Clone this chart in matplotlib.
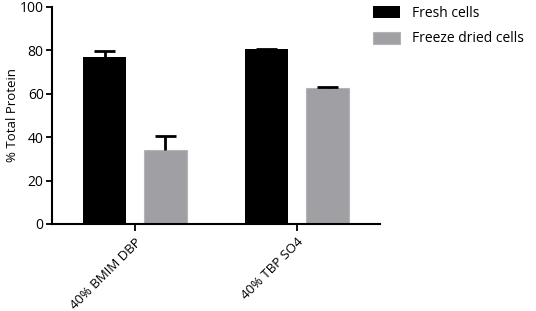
import matplotlib.pyplot as plt
import numpy as np

# Data
groups = ['40% BMIM DBP', '40% TBP SO4']
fresh = [77.0, 80.5]
fresh_err = [2.7, 0.0]
freeze = [34.0, 62.5]
freeze_err = [6.5, 0.6]
series_names = ['Fresh cells', 'Freeze dried cells']

plt.rcParams['font.family'] = ['Open Sans', 'DejaVu Sans']

fig = plt.figure(figsize=(5.36, 3.11), dpi=100)
ax = fig.add_axes([0.097, 0.28, 0.612, 0.6975])

x = np.arange(len(groups))
w = 0.265
off = 0.188
cap = 0.065

ax.bar(x - off, fresh, w, color='black', label=series_names[0], zorder=2)
ax.bar(x + off, freeze, w, color='#a0a0a4', edgecolor='#b4b4b8', linewidth=0.8,
       label=series_names[1], zorder=2)

# upward-only error bars
for xs, vals, errs in [(x - off, fresh, fresh_err), (x + off, freeze, freeze_err)]:
    vals = np.array(vals)
    errs = np.array(errs)
    ax.vlines(xs, vals, vals + errs, color='black', linewidth=2, zorder=3)
    ax.hlines(vals + errs, xs - cap, xs + cap, color='black', linewidth=2, zorder=3)

ax.set_xlim(-0.512, 1.512)
ax.set_ylim(0, 100)
ax.set_yticks([0, 20, 40, 60, 80, 100])
ax.set_xticks(x)
ax.set_xticklabels(groups, rotation=45, ha='right', rotation_mode='anchor', fontsize=9.5)
ax.tick_params(axis='y', labelsize=10, width=1.3, length=4, pad=2)
ax.tick_params(axis='x', width=1.3, length=5)
ax.set_ylabel('% Total Protein', fontsize=9.5)
ax.yaxis.set_label_coords(-0.1, 0.5)

for s in ['top', 'right']:
    ax.spines[s].set_visible(False)
for s in ['left', 'bottom']:
    ax.spines[s].set_linewidth(1.5)

ax.legend(loc='upper left', bbox_to_anchor=(0.962, 1.03), frameon=False, fontsize=10,
          handlelength=1.9, handleheight=0.95, handletextpad=0.9, labelspacing=0.75,
          borderaxespad=0)

fig.savefig('out.png', dpi=100)
